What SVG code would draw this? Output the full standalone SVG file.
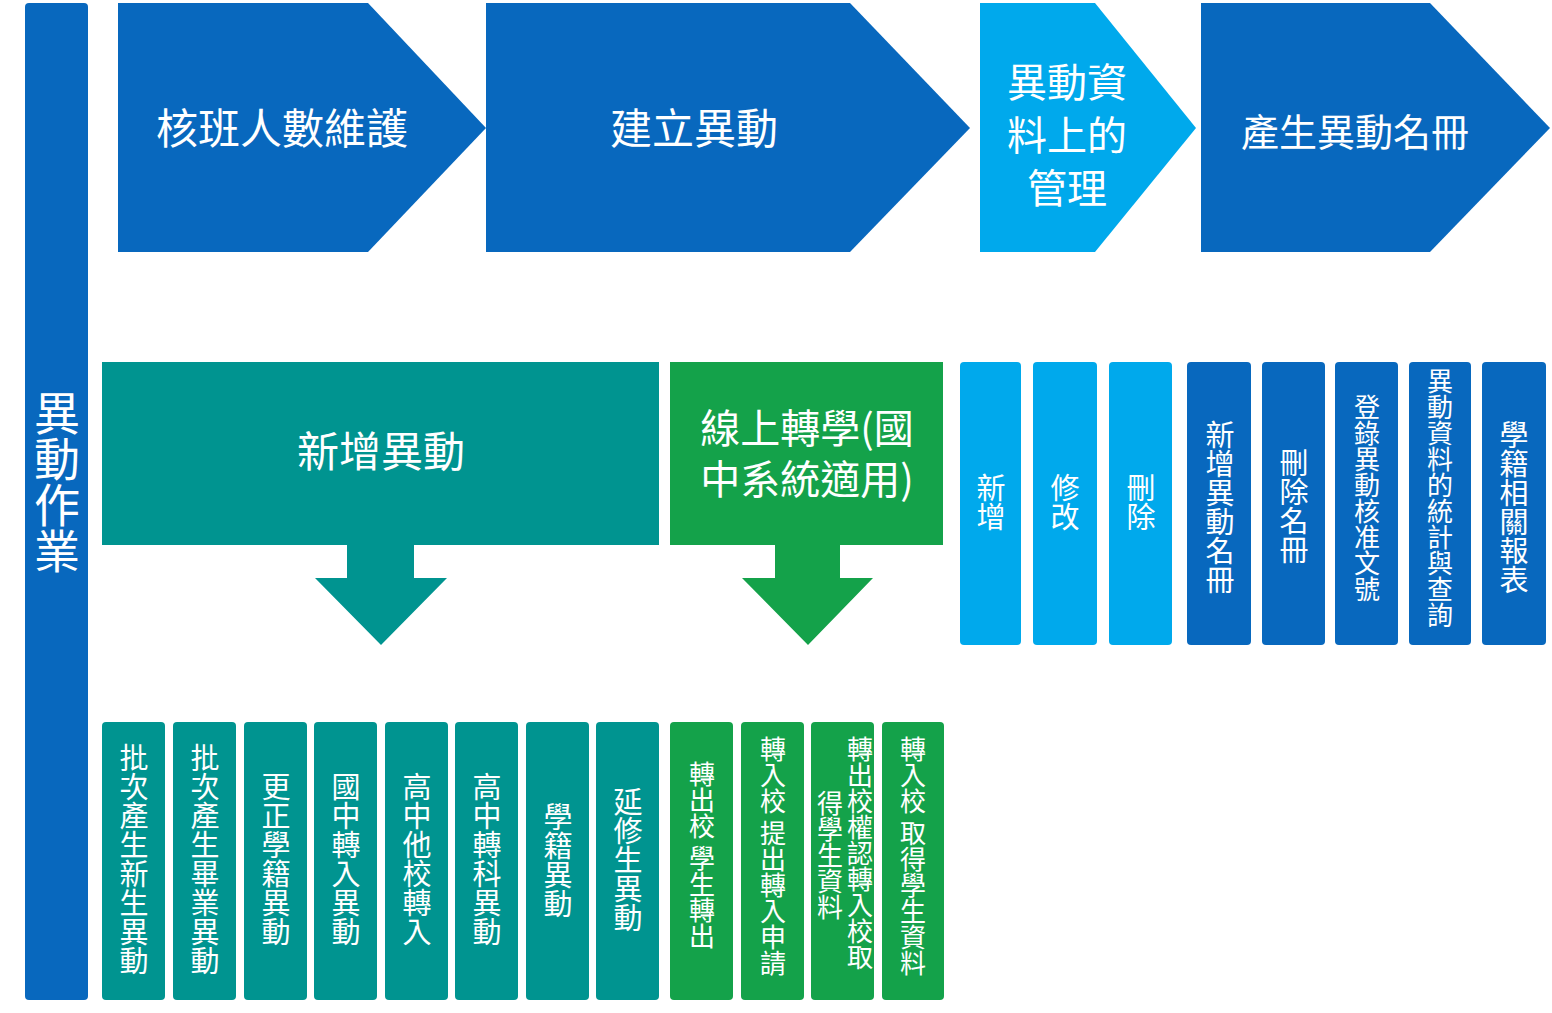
<svg xmlns="http://www.w3.org/2000/svg" width="1552" height="1013" viewBox="0 0 1552 1013">
<style>
text{font-family:"Noto Sans CJK TC","Noto Sans CJK SC",sans-serif;fill:#fff;}
.h{font-size:42px;text-anchor:middle;}
.v{writing-mode:vertical-rl;text-anchor:start;font-size:29px;}
.s{font-size:26px;}
.t{fill:#009490}.g{fill:#14A24A}.d{fill:#0868BE}.l{fill:#00A9EC}
</style>
<rect width="1552" height="1013" fill="#fff"/>
<g id="side"><rect x="25" y="3" width="63" height="997" rx="4" class="d"/><text x="57" y="390" class="v" style="font-size:46px">異動作業</text></g>
<g id="top1"><polygon points="118,3 368,3 486,128 368,252 118,252" class="d"/><text x="282" y="144" class="h">核班人數維護</text></g>
<g id="top2"><polygon points="486,3 850,3 970,128 850,252 486,252" class="d"/><text x="694" y="144" class="h">建立異動</text></g>
<g id="top3"><polygon points="980,3 1095,3 1196,128 1095,252 980,252" class="l"/><text class="h" x="1067" y="97" style="font-size:40px">異動資</text><text class="h" x="1067" y="150" style="font-size:40px">料上的</text><text class="h" x="1067" y="203" style="font-size:40px">管理</text></g>
<g id="top4"><polygon points="1201,3 1430,3 1550,128 1430,252 1201,252" class="d"/><text x="1355" y="146" class="h" style="font-size:38px">產生異動名冊</text></g>
<g id="mid1"><polygon points="102,362 659,362 659,545 414,545 414,578 447,578 381,645 315,578 347,578 347,545 102,545" class="t"/><text x="381" y="467" class="h">新增異動</text></g>
<g id="mid2"><polygon points="670,362 943,362 943,545 840,545 840,578 873,578 808,645 742,578 775,578 775,545 670,545" class="g"/><text class="h" x="807" y="443" style="font-size:40px">線上轉學(國</text><text class="h" x="807" y="494" style="font-size:40px">中系統適用)</text></g>
<g id="r1"><rect x="960" y="362" width="61" height="283" rx="4" class="l"/><text x="991" y="473" class="v">新增</text></g>
<g id="r2"><rect x="1033" y="362" width="64" height="283" rx="4" class="l"/><text x="1065" y="473" class="v">修改</text></g>
<g id="r3"><rect x="1109" y="362" width="63" height="283" rx="4" class="l"/><text x="1141" y="473" class="v">刪除</text></g>
<g id="r4"><rect x="1187" y="362" width="64" height="283" rx="4" class="d"/><text x="1220" y="420" class="v">新增異動名冊</text></g>
<g id="r5"><rect x="1262" y="362" width="63" height="283" rx="4" class="d"/><text x="1294" y="448" class="v">刪除名冊</text></g>
<g id="r6"><rect x="1335" y="362" width="63" height="283" rx="4" class="d"/><text x="1367" y="394" class="v s">登錄異動核准文號</text></g>
<g id="r7"><rect x="1409" y="362" width="62" height="283" rx="4" class="d"/><text x="1440" y="368" class="v s">異動資料的統計與查詢</text></g>
<g id="r8"><rect x="1482" y="362" width="64" height="283" rx="4" class="d"/><text x="1514" y="420" class="v">學籍相關報表</text></g>
<g id="b1"><rect x="102" y="722" width="63" height="278" rx="4" class="t"/><text x="134" y="743" class="v">批次產生新生異動</text></g>
<g id="b2"><rect x="173" y="722" width="63" height="278" rx="4" class="t"/><text x="205" y="743" class="v">批次產生畢業異動</text></g>
<g id="b3"><rect x="244" y="722" width="63" height="278" rx="4" class="t"/><text x="276" y="772" class="v">更正學籍異動</text></g>
<g id="b4"><rect x="314" y="722" width="63" height="278" rx="4" class="t"/><text x="346" y="772" class="v">國中轉入異動</text></g>
<g id="b5"><rect x="385" y="722" width="63" height="278" rx="4" class="t"/><text x="417" y="772" class="v">高中他校轉入</text></g>
<g id="b6"><rect x="455" y="722" width="63" height="278" rx="4" class="t"/><text x="487" y="772" class="v">高中轉科異動</text></g>
<g id="b7"><rect x="526" y="722" width="63" height="278" rx="4" class="t"/><text x="558" y="802" class="v">學籍異動</text></g>
<g id="b8"><rect x="596" y="722" width="63" height="278" rx="4" class="t"/><text x="628" y="787" class="v">延修生異動</text></g>
<g id="g1"><rect x="670" y="722" width="63" height="278" rx="4" class="g"/><text x="702" y="761" class="v s">轉出校 學生轉出</text></g>
<g id="g2"><rect x="741" y="722" width="63" height="278" rx="4" class="g"/><text x="773" y="736" class="v s">轉入校 提出轉入申請</text></g>
<g id="g3"><rect x="811" y="722" width="63" height="278" rx="4" class="g"/><text x="860" y="736" class="v s">轉出校權認轉入校取</text><text x="830" y="790" class="v s">得學生資料</text></g>
<g id="g4"><rect x="882" y="722" width="62" height="278" rx="4" class="g"/><text x="913" y="736" class="v s">轉入校 取得學生資料</text></g>
<g id="connectors"></g>
</svg>
